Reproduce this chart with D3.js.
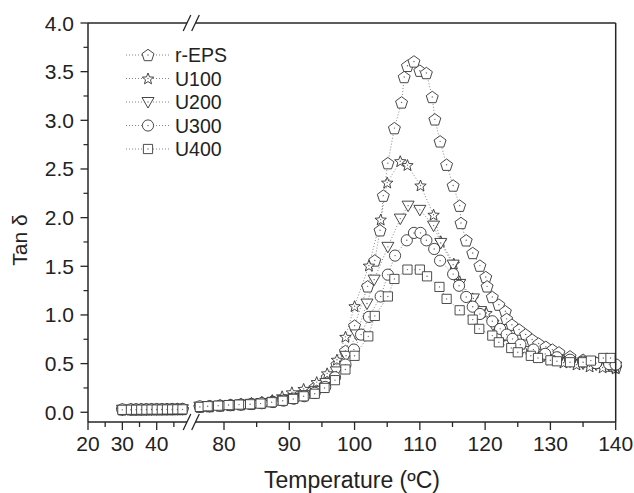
<!DOCTYPE html>
<html>
<head>
<meta charset="utf-8">
<script src="https://cdn.jsdelivr.net/npm/d3@7"></script>
<style>
  html, body { margin: 0; padding: 0; background: #fff; }
  svg { display: block; }
  text { font-family: "Liberation Sans", Arial, sans-serif; fill: #222; }
</style>
</head>
<body>
<svg id="chart" width="634" height="493"></svg>
<script>
// ---------------- data ----------------
const seriesNames = ["r-EPS", "U100", "U200", "U300", "U400"];

// low-temperature segment (left of the axis break)
const tempLow = [30, 32.5, 34, 35.5, 37, 38.5, 40, 41.5, 43, 44.5, 46, 47.5];
const rEPS_low = [0.030, 0.030, 0.031, 0.031, 0.031, 0.032, 0.032, 0.032, 0.033, 0.033, 0.034, 0.034];
const U100_low = [0.028, 0.029, 0.029, 0.030, 0.030, 0.030, 0.031, 0.031, 0.031, 0.032, 0.032, 0.033];
const U200_low = [0.026, 0.027, 0.027, 0.028, 0.028, 0.029, 0.029, 0.030, 0.030, 0.030, 0.031, 0.031];
const U300_low = [0.029, 0.030, 0.030, 0.030, 0.031, 0.031, 0.032, 0.032, 0.032, 0.033, 0.033, 0.034];
const U400_low = [0.025, 0.026, 0.026, 0.027, 0.027, 0.028, 0.028, 0.028, 0.029, 0.029, 0.030, 0.030];

// high-temperature segment (right of the break)
const rEPS_T = [76.3, 77.8, 79.4, 81, 82.6, 84.2, 85.8, 87.4, 89, 90.6, 92.2, 94, 95.8, 97.3, 98.6, 100, 102, 103.1, 103.9, 104.4, 105.1, 106.1, 107.2, 107.6, 108.1, 109.1, 110, 111, 111.9, 112.3, 113.1, 114.1, 115.1, 116.1, 116.3, 117.1, 118.1, 119.2, 120.1, 120.3, 121.1, 122.1, 123.1, 123.3, 124.1, 125.2, 126.2, 127.2, 128.2, 129.3, 130.3, 131.3, 133, 135, 137, 139, 140];
const rEPS_V = [0.058, 0.063, 0.07, 0.076, 0.083, 0.09, 0.1, 0.115, 0.13, 0.155, 0.2, 0.26, 0.36, 0.49, 0.63, 0.89, 1.294, 1.56, 1.87, 2.226, 2.56, 2.92, 3.184, 3.445, 3.56, 3.605, 3.51, 3.486, 3.24, 3.01, 2.784, 2.544, 2.33, 2.123, 1.945, 1.767, 1.637, 1.507, 1.39, 1.294, 1.185, 1.106, 1.038, 0.96, 0.9, 0.85, 0.8, 0.747, 0.706, 0.672, 0.644, 0.616, 0.575, 0.54, 0.51, 0.48, 0.465];

const U100_T = [76.3, 77.8, 79.4, 81, 82.6, 84.2, 85.8, 87.4, 88.9, 90.4, 92.2, 94.2, 95.8, 97.3, 98.6, 100, 102.2, 104, 105, 107, 108.1, 110.1, 112.1, 113.2, 115.2, 116.1, 118.1, 120.2, 122, 124, 126, 128, 130, 132, 134, 136, 138, 140];
const U100_V = [0.06, 0.065, 0.072, 0.078, 0.085, 0.095, 0.107, 0.125, 0.164, 0.205, 0.24, 0.31, 0.4, 0.54, 0.775, 1.09, 1.507, 1.98, 2.36, 2.58, 2.54, 2.33, 2.03, 1.757, 1.527, 1.346, 1.17, 1.02, 0.86, 0.74, 0.65, 0.585, 0.54, 0.51, 0.49, 0.47, 0.46, 0.45];

const U200_T = [76.3, 77.8, 79.4, 81, 82.6, 84.2, 85.8, 87.5, 89.1, 90.7, 92.3, 94, 95.6, 97.2, 98.7, 100.3, 101.9, 103, 105.1, 107, 108.2, 110, 112.1, 113.2, 115.1, 116.1, 118.2, 119.3, 121.2, 123, 125, 127, 129, 131, 133, 135, 137, 139, 140];
const U200_V = [0.058, 0.062, 0.068, 0.074, 0.08, 0.087, 0.095, 0.107, 0.125, 0.145, 0.175, 0.22, 0.3, 0.42, 0.58, 0.8, 1.117, 1.363, 1.7, 1.99, 2.123, 2.08, 1.918, 1.74, 1.517, 1.319, 1.17, 1.04, 0.9, 0.79, 0.7, 0.63, 0.58, 0.545, 0.52, 0.5, 0.49, 0.48, 0.47];

const U300_T = [76.3, 77.8, 79.4, 81, 82.6, 84.2, 85.8, 87.5, 89.1, 90.7, 92.3, 93.9, 95.5, 97, 98.6, 99.9, 101, 102.2, 104, 105.1, 106.2, 108, 109.1, 110.1, 111, 112.2, 113.1, 115.1, 116, 117.1, 118.1, 119.2, 121.1, 122.3, 123.3, 124.2, 125.4, 127.4, 129.2, 131, 133, 135, 137, 139, 140];
const U300_V = [0.06, 0.063, 0.068, 0.073, 0.079, 0.085, 0.093, 0.105, 0.12, 0.14, 0.165, 0.2, 0.26, 0.36, 0.49, 0.644, 0.798, 0.98, 1.19, 1.414, 1.61, 1.767, 1.843, 1.843, 1.767, 1.678, 1.558, 1.42, 1.3, 1.185, 1.085, 1.01, 0.935, 0.857, 0.798, 0.754, 0.695, 0.644, 0.6, 0.565, 0.54, 0.52, 0.505, 0.495, 0.49];

const U400_T = [76.3, 77.5, 79.1, 80.7, 82.3, 84, 85.6, 87.3, 89, 90.6, 92.2, 93.9, 95.4, 97, 98.6, 100, 102.1, 103.1, 105.1, 106.1, 108.1, 110, 111.1, 113, 114.1, 116.1, 118.1, 119.1, 121.1, 122.1, 124, 125, 127, 128.1, 130, 131, 133, 135, 136.2, 138.1, 139.2];
const U400_V = [0.055, 0.062, 0.068, 0.074, 0.079, 0.082, 0.089, 0.103, 0.118, 0.137, 0.164, 0.19, 0.25, 0.33, 0.44, 0.58, 0.78, 0.99, 1.19, 1.37, 1.466, 1.466, 1.397, 1.288, 1.165, 1.048, 0.952, 0.857, 0.788, 0.719, 0.66, 0.616, 0.58, 0.558, 0.534, 0.524, 0.514, 0.514, 0.531, 0.558, 0.558];

const yTickValues = [0.0, 0.5, 1.0, 1.5, 2.0, 2.5, 3.0, 3.5, 4.0];
const xTicksLow = [20, 30, 40];
const xTicksHigh = [80, 90, 100, 110, 120, 130, 140];

const seriesTable = [
  { name: "r-EPS", shape: "pentagon", low: rEPS_low, T: rEPS_T, V: rEPS_V },
  { name: "U100",  shape: "star",     low: U100_low, T: U100_T, V: U100_V },
  { name: "U200",  shape: "triDown",  low: U200_low, T: U200_T, V: U200_V },
  { name: "U300",  shape: "circle",   low: U300_low, T: U300_T, V: U300_V },
  { name: "U400",  shape: "square",   low: U400_low, T: U400_T, V: U400_V }
];

// ---------------- layout ----------------
const svg = d3.select("#chart");
const plotL = 88, plotR = 615.7, plotT = 23, plotB = 422;
const breakA = 187, breakB = 195.5;

const xLow = d3.scaleLinear().domain([20, 49]).range([plotL, plotL + 29 * 3.435]);
const xHigh = d3.scaleLinear().domain([80, 140]).range([224, plotR]);
const y = d3.scaleLinear().domain([-0.1, 4.0]).range([plotB, plotT]);

const ink = "#262626";

// ---------------- markers ----------------
function shapePath(shape) {
  const p = d3.path();
  if (shape === "pentagon") {
    const r = 6.3;
    for (let k = 0; k < 5; k++) {
      const a = -Math.PI / 2 + k * 2 * Math.PI / 5;
      const px = r * Math.cos(a), py = r * Math.sin(a) + 0.6;
      k === 0 ? p.moveTo(px, py) : p.lineTo(px, py);
    }
    p.closePath();
  } else if (shape === "star") {
    const R = 6, r = 2.6;
    for (let k = 0; k < 10; k++) {
      const a = -Math.PI / 2 + k * Math.PI / 5;
      const rr = k % 2 === 0 ? R : r;
      const px = rr * Math.cos(a), py = rr * Math.sin(a) + 0.5;
      k === 0 ? p.moveTo(px, py) : p.lineTo(px, py);
    }
    p.closePath();
  } else if (shape === "triDown") {
    p.moveTo(-6, -4.5); p.lineTo(6, -4.5); p.lineTo(0, 6); p.closePath();
  } else if (shape === "circle") {
    p.moveTo(5.6, 0); p.arc(0, 0, 5.6, 0, 2 * Math.PI);
  } else if (shape === "square") {
    p.rect(-4.6, -4.6, 9.2, 9.2);
  }
  return p.toString();
}

function drawMarker(g, shape, cx, cy) {
  const m = g.append("g").attr("transform", `translate(${cx},${cy})`);
  m.append("path").attr("d", shapePath(shape))
    .attr("fill", "#fff").attr("stroke", shape === "square" ? "#3a3a3a" : "#333")
    .attr("stroke-width", 0.9);
  m.append("circle").attr("r", 0.7).attr("fill", "#666");
}

// ---------------- series ----------------
const dataG = svg.append("g");
const lineLow = d3.line().x(d => xLow(d[0])).y(d => y(d[1]));
const lineHigh = d3.line().x(d => xHigh(d[0])).y(d => y(d[1]));

seriesTable.forEach(s => {
  const lowPts = tempLow.map((t, i) => [t, s.low[i]]);
  const highPts = s.T.map((t, i) => [t, s.V[i]]);
  dataG.append("path").attr("d", lineLow(lowPts))
    .attr("fill", "none").attr("stroke", "#777").attr("stroke-width", 0.9)
    .attr("stroke-dasharray", "1,2");
  dataG.append("path").attr("d", lineHigh(highPts))
    .attr("fill", "none").attr("stroke", "#777").attr("stroke-width", 0.9)
    .attr("stroke-dasharray", "1,2");
});
seriesTable.forEach(s => {
  const g = dataG.append("g");
  tempLow.forEach((t, i) => drawMarker(g, s.shape, xLow(t), y(s.low[i])));
  s.T.forEach((t, i) => drawMarker(g, s.shape, xHigh(t), y(s.V[i])));
});

// ---------------- axes / frame ----------------
const frame = svg.append("g").attr("stroke", ink).attr("stroke-width", 1.5).attr("fill", "none");
frame.append("line").attr("x1", plotL).attr("x2", plotL).attr("y1", plotT).attr("y2", plotB);
frame.append("line").attr("x1", plotR).attr("x2", plotR).attr("y1", plotT).attr("y2", plotB);
[plotT, plotB].forEach(yy => {
  frame.append("line").attr("x1", plotL).attr("x2", breakA).attr("y1", yy).attr("y2", yy);
  frame.append("line").attr("x1", breakB).attr("x2", plotR).attr("y1", yy).attr("y2", yy);
  [breakA, breakB].forEach(bx => {
    frame.append("line").attr("x1", bx - 3.8).attr("y1", yy + 8)
      .attr("x2", bx + 3.8).attr("y2", yy - 8).attr("stroke-width", 1.3);
  });
});

// y ticks
const yTickG = svg.append("g");
yTickValues.forEach(v => {
  yTickG.append("line").attr("x1", plotL - 7.5).attr("x2", plotL)
    .attr("y1", y(v)).attr("y2", y(v)).attr("stroke", ink).attr("stroke-width", 1.3);
  yTickG.append("text").attr("x", plotL - 14).attr("y", y(v))
    .attr("text-anchor", "end").attr("dominant-baseline", "central")
    .attr("font-size", 21).text(d3.format(".1f")(v));
});
yTickValues.slice(0, -1).forEach(v => {
  const mv = v + 0.25;
  yTickG.append("line").attr("x1", plotL - 4.5).attr("x2", plotL)
    .attr("y1", y(mv)).attr("y2", y(mv)).attr("stroke", ink).attr("stroke-width", 1.2);
});

// x ticks
const xTickG = svg.append("g");
function xTick(px, label, major) {
  xTickG.append("line").attr("x1", px).attr("x2", px)
    .attr("y1", plotB).attr("y2", plotB + (major ? 8 : 5))
    .attr("stroke", ink).attr("stroke-width", 1.3);
  if (label !== null) {
    xTickG.append("text").attr("x", px).attr("y", plotB + 28.5)
      .attr("text-anchor", "middle").attr("font-size", 21).text(label);
  }
}
xTicksLow.forEach(t => { xTick(xLow(t), t, true); xTick(xLow(t + 5), null, false); });
xTicksHigh.forEach((t, i) => {
  xTick(xHigh(t), t, true);
  if (i < xTicksHigh.length - 1) xTick(xHigh(t + 5), null, false);
});

// axis titles
svg.append("text").attr("x", 352).attr("y", 488).attr("text-anchor", "middle")
  .attr("font-size", 23).text("Temperature (ºC)");
svg.append("text").attr("transform", "translate(27,240) rotate(-90)")
  .attr("text-anchor", "middle").attr("font-size", 21).text("Tan δ");

// ---------------- legend ----------------
const leg = svg.append("g");
seriesTable.forEach((s, i) => {
  const ly = 55 + i * 23.5;
  leg.append("line").attr("x1", 126).attr("x2", 170).attr("y1", ly).attr("y2", ly)
    .attr("stroke", "#777").attr("stroke-width", 0.9).attr("stroke-dasharray", "1,2");
  drawMarker(leg, s.shape, 148, ly);
  leg.append("text").attr("x", 175).attr("y", ly).attr("dominant-baseline", "central")
    .attr("font-size", 19.5).text(s.name);
});
</script>
</body>
</html>
